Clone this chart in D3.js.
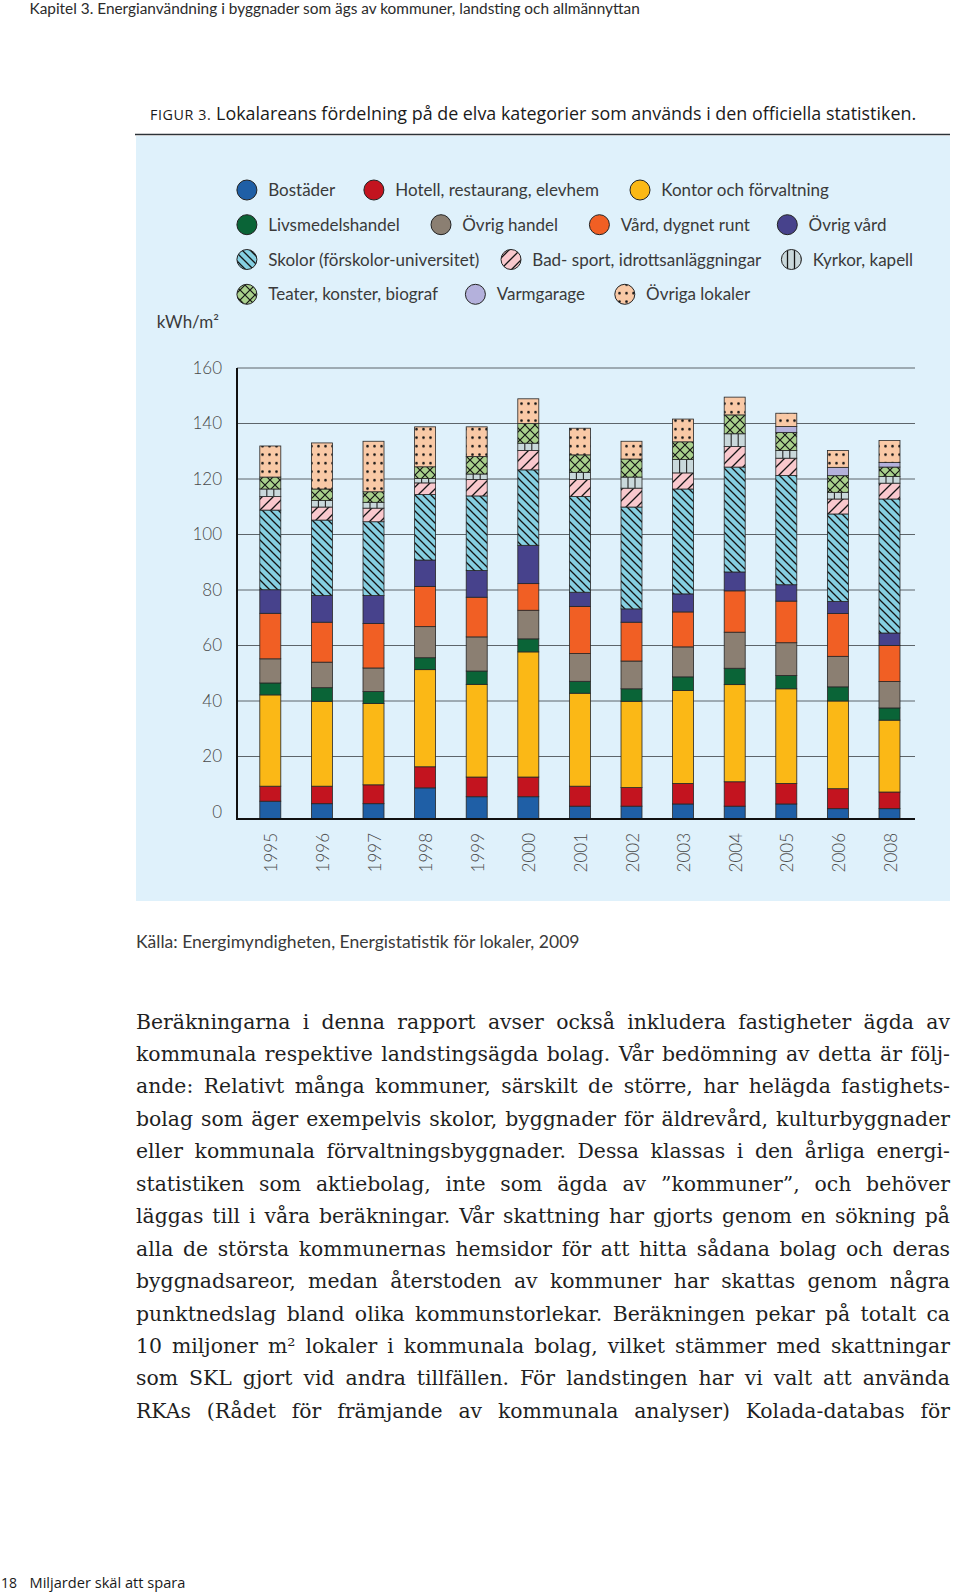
<!DOCTYPE html>
<html><head><meta charset="utf-8">
<script src="https://cdn.jsdelivr.net/npm/d3@7/dist/d3.min.js"></script>
<style>body{margin:0;background:#fff}svg{display:block}</style>
</head><body>
<script>
// ---------- DATA ----------
const years = ["1995","1996","1997","1998","1999","2000","2001","2002","2003","2004","2005","2006","2008"];
const categories = ["Bostäder","Hotell, restaurang, elevhem","Kontor och förvaltning","Livsmedelshandel","Övrig handel","Vård, dygnet runt","Övrig vård","Skolor (förskolor-universitet)","Bad- sport, idrottsanläggningar","Kyrkor, kapell","Teater, konster, biograf","Varmgarage","Övriga lokaler"];
const bostader      = [3.9,3.0,3.0,8.7,5.5,5.5,2.1,2.1,2.9,2.1,2.9,1.2,1.2];
const hotell        = [5.4,6.3,6.8,7.6,7.1,7.1,7.2,6.7,7.4,8.8,7.4,7.2,6.0];
const kontor        = [32.9,30.6,29.3,35.0,33.4,45.1,33.5,31.1,33.5,35.0,34.1,31.6,25.9];
const livsmedel     = [4.3,4.9,4.3,4.3,4.8,4.7,4.3,4.5,4.9,5.9,4.8,5.1,4.4];
const ovrigHandel   = [8.7,9.2,8.5,11.2,12.3,10.3,10.0,10.0,10.8,13.0,11.8,11.0,9.5];
const vard          = [16.4,14.4,16.0,14.5,14.3,9.6,17.0,14.0,12.6,14.9,15.0,15.4,13.0];
const ovrigVard     = [8.5,9.6,10.1,9.5,9.6,13.8,5.1,4.8,6.5,6.8,5.9,4.4,4.5];
const skolor        = [28.7,27.2,26.6,23.6,26.9,27.2,34.5,36.7,37.8,37.8,39.4,31.5,48.3];
const bad           = [4.9,4.7,4.9,4.2,5.9,7.0,6.1,6.8,5.8,7.4,6.2,5.4,5.7];
const kyrkor        = [2.7,2.4,2.1,1.6,2.0,2.6,2.6,4.0,4.8,4.6,2.8,2.4,2.4];
const teater        = [4.3,4.1,3.8,4.2,6.3,7.1,6.3,6.5,6.4,6.8,6.5,6.0,3.4];
const varmgarage    = [0,0,0,0,0,0,0,0,0,0,2.1,3.0,1.7];
const ovrigaLokaler = [11.2,16.6,18.2,14.4,10.7,8.9,9.6,6.4,8.2,6.4,4.8,6.1,7.9];
const yTicks = [0,20,40,60,80,100,120,140,160];
const yUnit = "kWh/m²";
const headerText = "Kapitel 3. Energianvändning i byggnader som ägs av kommuner, landsting och allmännyttan";
const titleLabel = "FIGUR 3.";
const titleText = " Lokalareans fördelning på de elva kategorier som används i den officiella statistiken.";
const sourceText = "Källa: Energimyndigheten, Energistatistik för lokaler, 2009";
const bodyLines = [
 "Beräkningarna i denna rapport avser också inkludera fastigheter ägda av",
 "kommunala respektive landstingsägda bolag. Vår bedömning av detta är följ-",
 "ande: Relativt många kommuner, särskilt de större, har helägda fastighets-",
 "bolag som äger exempelvis skolor, byggnader för äldrevård, kulturbyggnader",
 "eller kommunala förvaltningsbyggnader. Dessa klassas i den årliga energi-",
 "statistiken som aktiebolag, inte som ägda av ”kommuner”, och behöver",
 "läggas till i våra beräkningar. Vår skattning har gjorts genom en sökning på",
 "alla de största kommunernas hemsidor för att hitta sådana bolag och deras",
 "byggnadsareor, medan återstoden av kommuner har skattas genom några",
 "punktnedslag bland olika kommunstorlekar. Beräkningen pekar på totalt ca",
 "10 miljoner m² lokaler i kommunala bolag, vilket stämmer med skattningar",
 "som SKL gjort vid andra tillfällen. För landstingen har vi valt att använda",
 "RKAs (Rådet för främjande av kommunala analyser) Kolada-databas för"
];
const pageNumber = "18";
const footerText = "Miljarder skäl att spara";

// ---------- STYLES / LAYOUT ----------
const seriesValues = [bostader,hotell,kontor,livsmedel,ovrigHandel,vard,ovrigVard,skolor,bad,kyrkor,teater,varmgarage,ovrigaLokaler];
const fills = ["#1f5fa6","#c3141f","#fbb816","#0a6437","#8b7f72","#f15f24","#47428c",
  "url(#pSkolor)","url(#pBad)","#c9d8db","url(#pTeater)","#b4b1dc","url(#pDots)"];
const legendLayout = [
  {r:0,cx:246.9},{r:0,cx:373.9},{r:0,cx:640.0},
  {r:1,cx:246.9},{r:1,cx:441.0},{r:1,cx:599.4},{r:1,cx:787.3},
  {r:2,cx:246.9},{r:2,cx:511.0},{r:2,cx:791.4},
  {r:3,cx:246.9},{r:3,cx:475.4},{r:3,cx:624.8}];
const legendRowY = [190,224.7,259.5,294.3];
const sans = "Lato, 'Open Sans', sans-serif";

const W = 960, H = 1593;
const svg = d3.select("body").append("svg").attr("width",W).attr("height",H);
const defs = svg.append("defs");

function pattern(id,w,h,bg,fn){
  const p = defs.append("pattern").attr("id",id).attr("patternUnits","userSpaceOnUse")
    .attr("width",w).attr("height",h);
  p.append("rect").attr("width",w).attr("height",h).attr("fill",bg);
  fn(p);
}
pattern("pSkolor",8,8,"#86cfe1",p=>p.append("path").attr("d","M0,0L8,8M-2,6L2,10M6,-2L10,2")
  .attr("stroke","#141414").attr("stroke-width",1.3));
pattern("pBad",11,11,"#f9c8cd",p=>p.append("path").attr("d","M0,11L11,0M-2,2L2,-2M9,13L13,9")
  .attr("stroke","#141414").attr("stroke-width",1.3));
pattern("pTeater",10,10,"#a9d08c",p=>p.append("path").attr("d","M0,0L10,10M10,0L0,10")
  .attr("stroke","#141414").attr("stroke-width",1.2));
pattern("pDots",7,8.5,"#f9c9a6",p=>p.append("circle").attr("cx",3.5).attr("cy",4.2).attr("r",1.3).attr("fill","#141414"));
pattern("pKyrkaIcon",7,20,"#c9d8db",p=>p.append("path").attr("d","M3.5,0V20").attr("stroke","#141414").attr("stroke-width",1.3));

// ---------- HEADER ----------
function fitWidth(sel,target){
  const w = sel.node().getComputedTextLength();
  const fs = parseFloat(sel.attr("font-size"));
  sel.attr("font-size", fs*target/w);
}
const hdr = svg.append("text").attr("x",29.5).attr("y",14).attr("font-family",sans)
  .attr("font-size",15).attr("fill","#2b2b2b").text(headerText);
fitWidth(hdr,611);

const ttl = svg.append("text").attr("x",150).attr("y",120).attr("font-family","'Open Sans', sans-serif")
  .attr("font-size",16).attr("fill","#1a1a1a");
ttl.append("tspan").attr("font-size","0.8em").attr("letter-spacing","0.6").text(titleLabel);
ttl.append("tspan").text(titleText);
fitWidth(ttl,767);

// ---------- PANEL ----------
svg.append("rect").attr("x",136).attr("y",136).attr("width",814).attr("height",765).attr("fill","#dff1fb");
svg.append("line").attr("x1",135).attr("x2",950).attr("y1",134.5).attr("y2",134.5)
  .attr("stroke","#2c3338").attr("stroke-width",1.6);

// ---------- LEGEND ----------
const lg = svg.append("g");
categories.forEach((c,i)=>{
  const L = legendLayout[i], cy = legendRowY[L.r];
  lg.append("circle").attr("cx",L.cx).attr("cy",cy).attr("r",10)
    .attr("fill", i===9 ? "url(#pKyrkaIcon)" : fills[i]).attr("stroke","#222").attr("stroke-width",1);
  lg.append("text").attr("x",L.cx+21.3).attr("y",cy+6).attr("font-family",sans)
    .attr("font-size",17).attr("fill","#3a3a3a").text(c);
});

// ---------- CHART ----------
const y = d3.scaleLinear().domain([0,160]).range([812,368]);
const x = d3.scaleBand().domain(years).range([237,922.8]).paddingInner(0.593).paddingOuter(0.442);
const baseY = 819;

svg.append("text").attr("x",219).attr("y",328).attr("text-anchor","end").attr("font-family",sans)
  .attr("font-size",17).attr("fill","#3a3a3a").text(yUnit);

const grid = svg.append("g");
grid.selectAll("line").data(yTicks.filter(t=>t>0)).join("line")
  .attr("x1",237).attr("x2",915).attr("y1",d=>y(d)).attr("y2",d=>y(d))
  .attr("stroke","#5d656a").attr("stroke-width",1);

const yAxis = svg.append("g").attr("transform","translate(222,0)")
  .call(d3.axisLeft(y).tickValues(yTicks).tickSize(0).tickPadding(0));
yAxis.select(".domain").remove();
yAxis.selectAll("text").attr("font-family",sans).attr("font-size",17).attr("font-weight",300)
  .attr("fill","#4a4a4a").attr("text-anchor","end");

const table = years.map((yr,i)=>{const o={year:yr}; categories.forEach((c,j)=>o[c]=seriesValues[j][i]); return o;});
const stacked = d3.stack().keys(categories)(table);

const layers = svg.append("g").selectAll("g").data(stacked).join("g")
  .attr("fill",(d,i)=>fills[i]);
layers.selectAll("rect").data(d=>d.filter(s=>s[1]-s[0]>0)).join("rect")
  .attr("x",d=>x(d.data.year)).attr("width",x.bandwidth())
  .attr("y",d=>y(d[1]))
  .attr("height",d=>(d[0]===0?baseY:y(d[0]))-y(d[1]))
  .attr("stroke","#262626").attr("stroke-width",0.8);

// vertical dividers for "Kyrkor, kapell"
const kyrk = stacked[9].filter(s=>s[1]-s[0]>0);
[1/3,2/3].forEach(f=>{
  svg.append("g").selectAll("line").data(kyrk).join("line")
    .attr("x1",d=>x(d.data.year)+x.bandwidth()*f).attr("x2",d=>x(d.data.year)+x.bandwidth()*f)
    .attr("y1",d=>y(d[1])).attr("y2",d=>y(d[0]))
    .attr("stroke","#262626").attr("stroke-width",1.1);
});

// axis lines
svg.append("line").attr("x1",237).attr("x2",237).attr("y1",y(160)).attr("y2",baseY+1)
  .attr("stroke","#111").attr("stroke-width",2);
svg.append("line").attr("x1",236).attr("x2",915).attr("y1",baseY).attr("y2",baseY)
  .attr("stroke","#111").attr("stroke-width",2.2);

// x labels
svg.append("g").selectAll("text").data(years).join("text")
  .attr("transform",d=>`translate(${x(d)+x.bandwidth()/2+1},833) rotate(-90)`)
  .attr("text-anchor","end").attr("dy","0.36em").attr("font-family",sans)
  .attr("font-size",17).attr("font-weight",300).attr("fill","#4a4a4a").text(d=>d);

// ---------- SOURCE ----------
const src = svg.append("text").attr("x",136).attr("y",948).attr("font-family",sans)
  .attr("font-size",16).attr("fill","#3a3a3a").text(sourceText);
fitWidth(src,444);

// ---------- BODY ----------
const body = svg.append("g").attr("font-family","'DejaVu Serif', serif").attr("font-size",20.4).attr("fill","#1f1f1f");
bodyLines.forEach((t,i)=>{
  const el = body.append("text").attr("x",136).attr("y",1028.5+i*32.45).text(t);
  const w = el.node().getComputedTextLength();
  const n = (t.match(/ /g)||[]).length;
  el.style("word-spacing",((814-w)/n)+"px");
});

// ---------- FOOTER ----------
svg.append("text").attr("x",1).attr("y",1588).attr("font-family","'Open Sans', sans-serif")
  .attr("font-size",14).attr("fill","#1a1a1a").text(pageNumber);
const ft = svg.append("text").attr("x",29.5).attr("y",1588).attr("font-family","'Open Sans', sans-serif")
  .attr("font-size",14).attr("fill","#1a1a1a").text(footerText);
fitWidth(ft,156);
</script>
</body></html>
